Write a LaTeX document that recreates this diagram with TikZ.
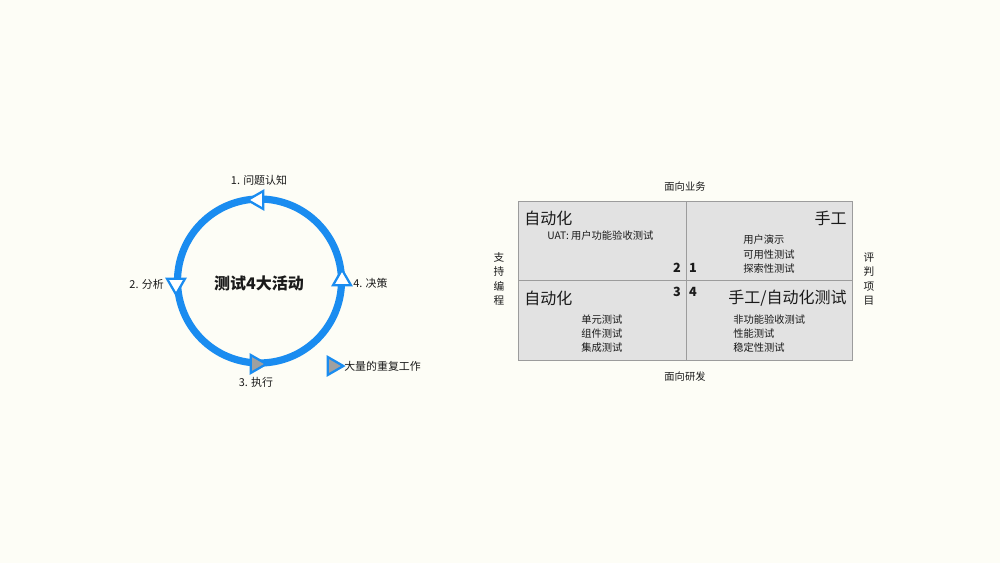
\documentclass[tikz,border=0pt]{standalone}
\usepackage{fontspec}
\setmainfont{Noto Sans CJK SC}
\usetikzlibrary{shapes.geometric}
\definecolor{bg}{HTML}{FDFDF6}
\definecolor{cblue}{HTML}{1A8CF0}
\definecolor{qfill}{HTML}{E2E2E2}
\definecolor{qline}{HTML}{9C9C9C}
\definecolor{tgray}{HTML}{A0A0A0}
\definecolor{ink}{HTML}{1A1A1A}
\begin{document}
\begin{tikzpicture}[x=0.75pt,y=-0.75pt,
  every node/.style={inner sep=0pt,text=ink},
  lbl/.style={font=\fontsize{8.2}{10}\selectfont},
  mlbl/.style={font=\fontsize{7.7}{10}\selectfont},
  big/.style={font=\fontsize{12}{14}\selectfont},
  num/.style={font=\bfseries\fontsize{9.5}{10}\selectfont},
  vert/.style={font=\fontsize{8}{10.9}\selectfont,align=center},
  tri/.style={regular polygon,regular polygon sides=3,draw=cblue,line width=1.7pt,minimum size=15.5pt,inner sep=0pt,fill=white},
  quad/.style={rectangle,draw=qline,fill=qfill,line width=1.1pt,anchor=north west,inner sep=0pt}
]
\fill[bg] (0,0) rectangle (1000,563);
\useasboundingbox (0,0) rectangle (1000,563);

% ---- cycle ----
\node[circle,draw=cblue,line width=5.4pt,minimum size=123pt] (cyc) at (259.5,281) {};
\node[font=\bfseries\fontsize{12}{14}\selectfont] (title) at (259,283) {测试4大活动};
\node[tri,rotate=90] (t1) at (258,200) {};
\node[tri,rotate=180] (t2) at (176,284) {};
\node[tri,rotate=-90,fill=tgray] (t3) at (256,364) {};
\node[tri] (t4) at (342,280) {};
\node[lbl] (l1) at (259,180) {1. 问题认知};
\node[lbl,anchor=east] (l2) at (164,284) {2. 分析};
\node[lbl] (l3) at (256,382) {3. 执行};
\node[lbl,anchor=west] (l4) at (353,283) {4. 决策};
\node[tri,rotate=-90,fill=tgray] (lt) at (333,366) {};
\node[lbl,anchor=west] (ltxt) at (344,366) {大量的重复工作};

% ---- matrix ----
\node[quad,minimum width=126pt,minimum height=59.25pt] (q2) at (518,201) {};
\node[quad,minimum width=124.5pt,minimum height=59.25pt] (q1) at (686,201) {};
\node[quad,minimum width=126pt,minimum height=60pt] (q3) at (518,280) {};
\node[quad,minimum width=124.5pt,minimum height=60pt] (q4) at (686,280) {};

\node[mlbl] (top) at (685,187) {面向业务};
\node[mlbl] (bot) at (685,377) {面向研发};
\node[vert] (left) at (499,279) {支\\持\\编\\程};
\node[vert] (right) at (869,279) {评\\判\\项\\目};

\node[big,anchor=west] (a2) at (524,218) {自动化};
\node[mlbl,anchor=west] (u2) at (547,236) {UAT: 用户功能验收测试};
\node[num] (n2) at (677,268) {2};
\node[num] (n1) at (693,268) {1};
\node[num] (n3) at (677,292) {3};
\node[num] (n4) at (693,292) {4};

\node[big,anchor=east] (a1) at (847,218) {手工};
\node[mlbl,anchor=west] (b1) at (743,240) {用户演示};
\node[mlbl,anchor=west] (b2) at (743,255) {可用性测试};
\node[mlbl,anchor=west] (b3) at (743,269) {探索性测试};

\node[big,anchor=west] (a3) at (524,298) {自动化};
\node[mlbl,anchor=west] (c1) at (581,320) {单元测试};
\node[mlbl,anchor=west] (c2) at (581,334) {组件测试};
\node[mlbl,anchor=west] (c3) at (581,348) {集成测试};

\node[big,anchor=east] (a4) at (847,298) {手工/自动化测试};
\node[mlbl,anchor=west] (d1) at (733,320) {非功能验收测试};
\node[mlbl,anchor=west] (d2) at (733,334) {性能测试};
\node[mlbl,anchor=west] (d3) at (733,348) {稳定性测试};
\end{tikzpicture}
\end{document}
